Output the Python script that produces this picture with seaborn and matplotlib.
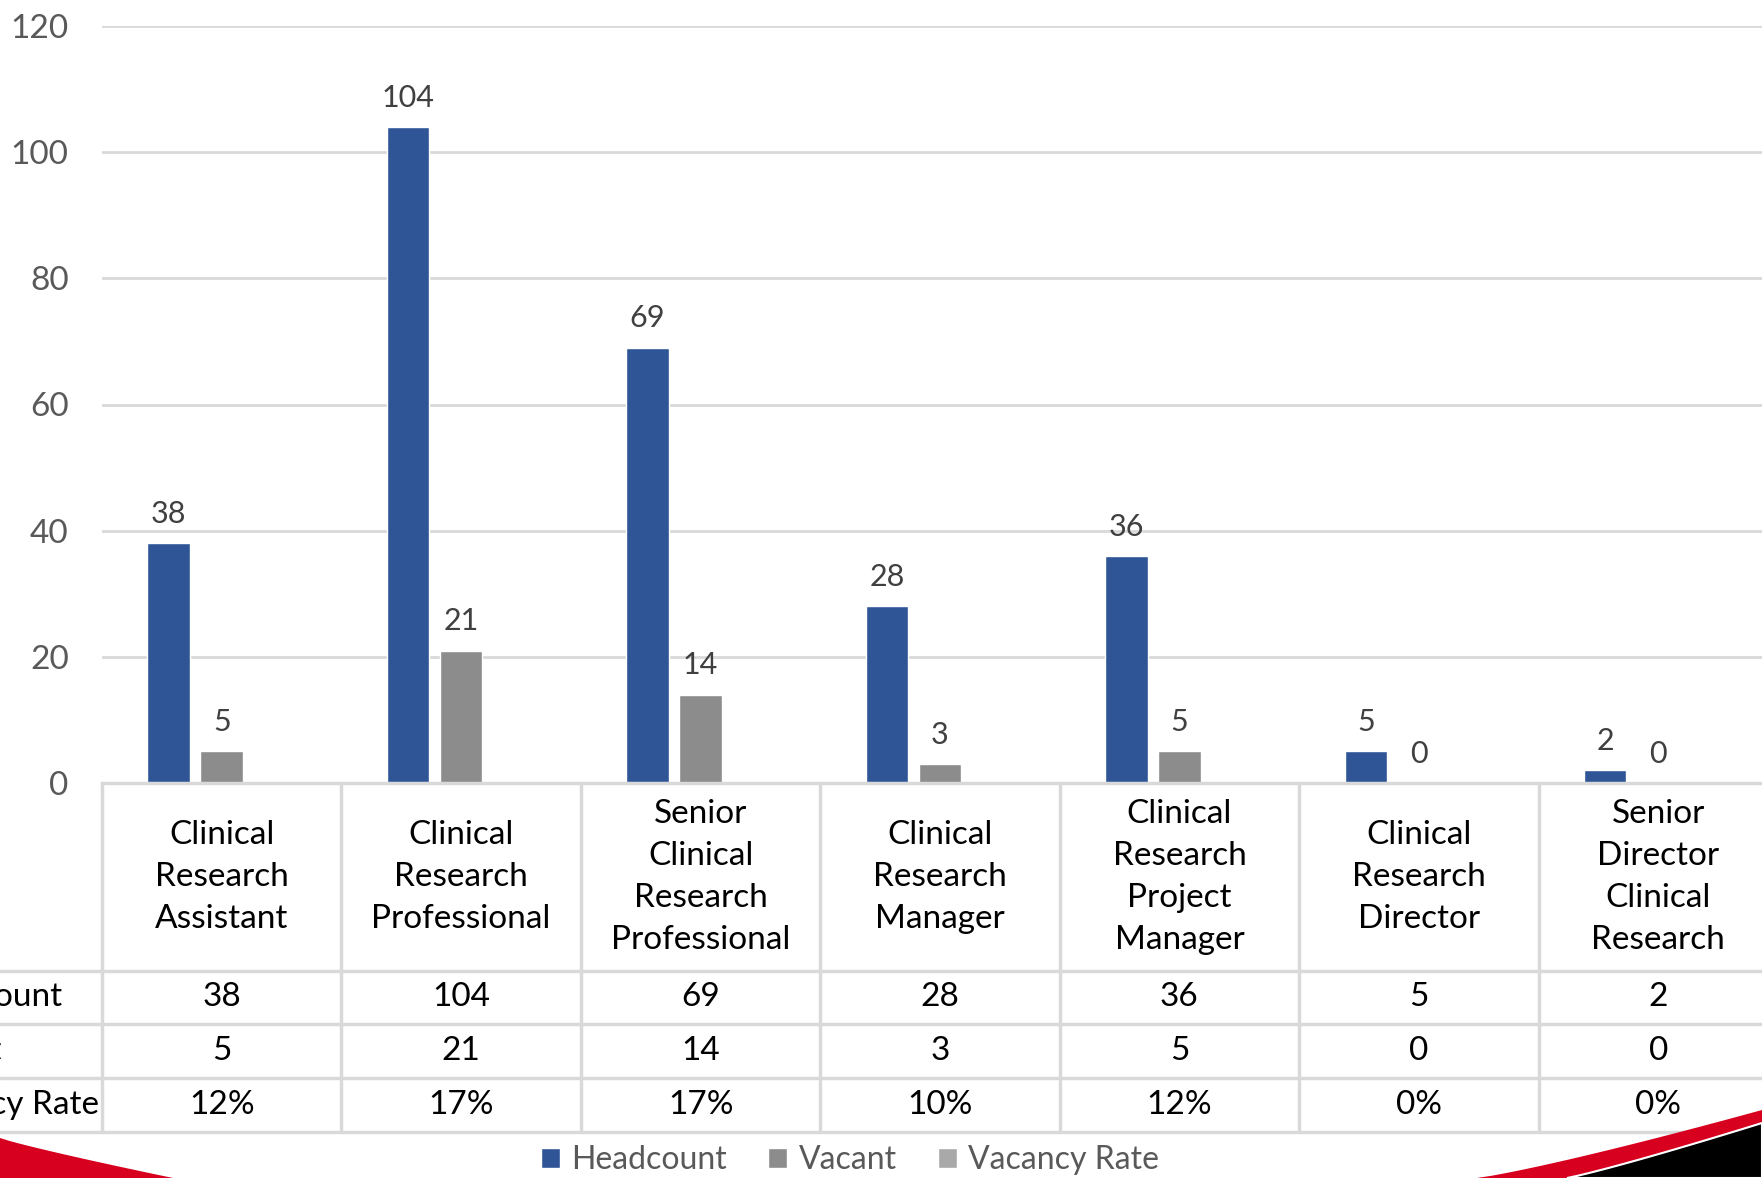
import textwrap
import numpy as np
import pandas as pd
import matplotlib.pyplot as plt
import matplotlib.transforms as mtransforms
from matplotlib.lines import Line2D
from matplotlib.patches import Polygon
import seaborn as sns

roles = ["Clinical Research Assistant", "Clinical Research Professional",
         "Senior Clinical Research Professional", "Clinical Research Manager",
         "Clinical Research Project Manager", "Clinical Research Director",
         "Senior Director Clinical Research"]
headcount = [38, 104, 69, 28, 36, 5, 2]
vacant = [5, 21, 14, 3, 5, 0, 0]
vacancy_rate = [0.12, 0.17, 0.17, 0.10, 0.12, 0.0, 0.0]
series = ["Headcount", "Vacant", "Vacancy Rate"]
colors = ["#2F5597", "#8C8C8C", "#A9A9A9"]
yticks = [0, 20, 40, 60, 80, 100, 120]

sns.set_theme(style="white")
plt.rcParams["font.family"] = ["Lato", "DejaVu Sans"]

df = pd.DataFrame({
    "role": roles * 3,
    "value": headcount + vacant + vacancy_rate,
    "series": [s for s in series for _ in roles],
})

W, H = 1762, 1178
fig = plt.figure(figsize=(W / 100, H / 100), dpi=100)
ax = fig.add_axes([102 / W, 1 - 783 / H, 1676 / W, 757 / H])

sns.barplot(data=df, x="role", y="value", hue="series", hue_order=series,
            palette=colors, saturation=1, width=0.665, gap=0.2,
            errorbar=None, ax=ax)

# data labels for headcount and vacant only
for c in ax.containers[:2]:
    ax.bar_label(c, padding=11, fontsize=22, color="#404040")

ax.set_xlim(-0.5, 6.5)
ax.set_ylim(0, 120)
ax.set_yticks(yticks)
ax.set_xlabel("")
ax.set_ylabel("")
ax.tick_params(axis="y", length=0, pad=24, labelsize=24, labelcolor="#595959")
ax.tick_params(axis="x", bottom=False, labelbottom=False)
ax.yaxis.grid(True, color="#D9D9D9", lw=2)
ax.set_axisbelow(True)
for s in ["left", "right", "top"]:
    ax.spines[s].set_visible(False)
ax.spines["bottom"].set_color("#D9D9D9")
ax.spines["bottom"].set_linewidth(2.5)

# data table under the chart
px = lambda y: (783 - y) / 757  # figure pixel row -> axes fraction
row_lines = [971, 1024, 1078, 1132]
tr_data = mtransforms.blended_transform_factory(ax.transData, ax.transAxes)
tr_fig = mtransforms.blended_transform_factory(fig.transFigure, ax.transAxes)
for yl in row_lines:
    ax.add_line(Line2D([0, 1.1], [px(yl), px(yl)], transform=tr_fig,
                       color="#D9D9D9", lw=2.5, clip_on=False))
for xb in np.arange(-0.5, 7.0, 1.0):
    ax.add_line(Line2D([xb, xb], [0, px(1132)], transform=tr_data,
                       color="#D9D9D9", lw=2.5, clip_on=False))

for i, r in enumerate(roles):
    ax.text(i, px(877), textwrap.fill(r, 12), transform=tr_data, ha="center",
            va="center", fontsize=24, color="black", linespacing=1.5)

rows = [headcount, vacant, [f"{round(v * 100)}%" for v in vacancy_rate]]
centers = [997.5, 1051, 1105]
for name, vals, yc in zip(series, rows, centers):
    ax.text(-100 / W, px(yc), name, transform=tr_fig, ha="left", va="center",
            fontsize=24, color="black")
    for i, v in enumerate(vals):
        ax.text(i, px(yc), str(v), transform=tr_data, ha="center",
                va="center", fontsize=24, color="black")

handles, labels = ax.get_legend_handles_labels()
ax.get_legend().remove()
fig.legend(handles, labels, loc="center", bbox_to_anchor=(850 / W, 1 - 1160 / H),
           ncol=3, frameon=False, fontsize=23, handlelength=0.6, handleheight=0.6,
           handletextpad=0.35, columnspacing=1.3, labelcolor="#595959")

# red / black swooshes at the bottom of the slide
def pts(p):
    return [(x / W, 1 - y / H) for x, y in p]

t = np.linspace(0, 1, 20)
left = [(0, 1138)] + [(173 * tt, 1138 + 40 * tt ** 0.9) for tt in t] + [(0, 1178)]
fig.patches.append(Polygon(pts(left), closed=True, transform=fig.transFigure,
                           facecolor="#D7001E", edgecolor="none", zorder=10))
red = [(1477 + 285 * tt, 1178 - 68 * tt ** 1.15) for tt in t] + [(1762, 1178)]
fig.patches.append(Polygon(pts(red), closed=True, transform=fig.transFigure,
                           facecolor="#D7001E", edgecolor="none", zorder=10))
blk = [(1567 + 195 * tt, 1178 - 55 * tt ** 1.1) for tt in t] + [(1762, 1178)]
fig.patches.append(Polygon(pts(blk), closed=True, transform=fig.transFigure,
                           facecolor="black", edgecolor="white", lw=1.5, zorder=11))

fig.savefig("out.png", dpi=100)
